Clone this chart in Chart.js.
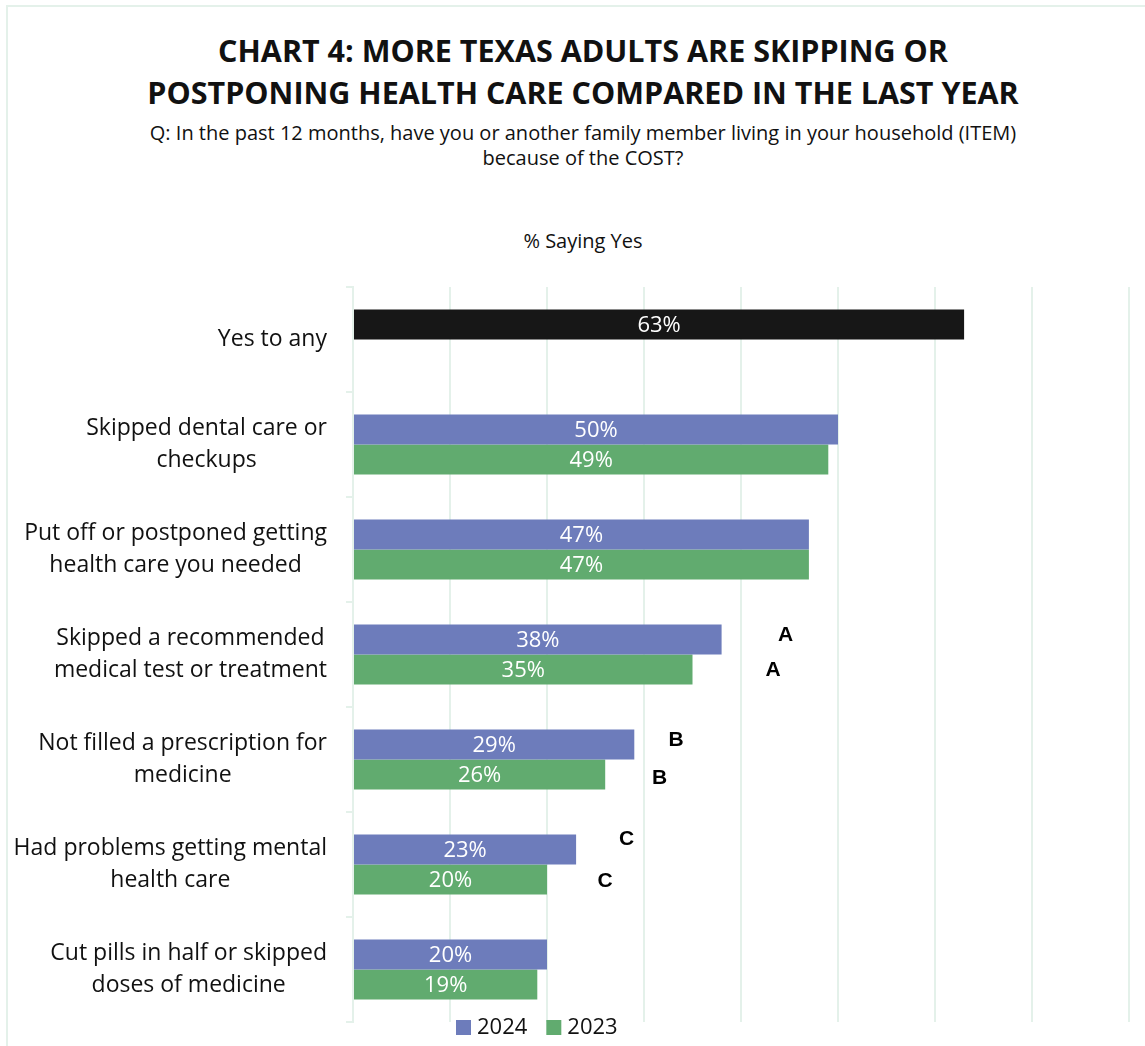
<!DOCTYPE html>
<html>
<head>
<meta charset="utf-8">
<title>Chart 4</title>
<script src="https://cdn.jsdelivr.net/npm/chart.js@4.4.1/dist/chart.umd.min.js"></script>
<style>
  html, body { margin: 0; padding: 0; background: #fff; }
  body { width: 1145px; height: 1046px; position: relative; overflow: hidden; font-family: 'Open Sans', sans-serif; color: #111; }
  .frame { position: absolute; left: 6px; top: 5px; width: 1300px; height: 1200px; border-left: 2px solid #e4f1ea; border-top: 2px solid #e4f1ea; }
  .head { position: absolute; left: 0; width: 1166px; text-align: center; }
  #title { top: 29px; font-size: 30.5px; font-weight: 700; line-height: 42px; }
  #question { top: 120px; font-size: 20px; line-height: 25px; }
  #measure { top: 228px; font-size: 20px; line-height: 25px; }
  #wrap { position: absolute; left: 0; top: 0; width: 1145px; height: 1046px; }
</style>
</head>
<body>
<div class="frame"></div>
<div class="head" id="title">CHART 4: MORE TEXAS ADULTS ARE SKIPPING OR<br>POSTPONING HEALTH CARE COMPARED IN THE LAST YEAR</div>
<div class="head" id="question">Q: In the past 12 months, have you or another family member living in your household (ITEM)<br>because of the COST?</div>
<div class="head" id="measure">% Saying Yes</div>
<div id="wrap"><canvas id="chart" width="1145" height="1046"></canvas></div>
<script>
// survey items, one row each (label lines)
const categories = [
  ['Yes to any'],
  ['Skipped dental care or', 'checkups'],
  ['Put off or postponed getting', 'health care you needed'],
  ['Skipped a recommended', 'medical test or treatment'],
  ['Not filled a prescription for', 'medicine'],
  ['Had problems getting mental', 'health care'],
  ['Cut pills in half or skipped', 'doses of medicine']
];
const seriesNames = ['2024', '2023'];
const values2024 = [63, 50, 47, 38, 29, 23, 20];
const values2023 = [null, 49, 47, 35, 26, 20, 19];

// significance letters next to bars
const sigRows = [3, 4, 5];
const sigLetters = ['A', 'B', 'C'];

const BLUE = '#6d7cbb';
const GREEN = '#61ab6f';
const BLACK = '#171717';
const GRID = '#e4f1ea';
const ROW_FONT = '23px "Open Sans", sans-serif';
const VALUE_FONT = '22px "Open Sans", sans-serif';

// where the letters sit: value position on x, pixel nudge on y
const sigPlacement = [
  { at: [44.6, 43.3], dy: [-4, 1] },
  { at: [33.3, 31.6], dy: [-4, 4] },
  { at: [28.2, 26.0], dy: [-10, 2] }
];

const barColors2024 = values2024.map((v, i) => i === 0 ? BLACK : BLUE);

const rowLabels = {
  id: 'rowLabels',
  afterDraw(chart) {
    const ctx = chart.ctx;
    const y = chart.scales.y;
    const right = chart.chartArea.left - 26;
    ctx.save();
    ctx.font = ROW_FONT;
    ctx.fillStyle = '#111';
    ctx.textAlign = 'center';
    ctx.textBaseline = 'middle';
    categories.forEach((lines, i) => {
      const cy = y.getPixelForValue(i);
      const w = Math.max(...lines.map(l => ctx.measureText(l).width));
      const cx = right - w / 2;
      const lh = 32;
      lines.forEach((l, k) => {
        ctx.fillText(l, cx, cy + (k - (lines.length - 1) / 2) * lh);
      });
    });
    ctx.restore();
  }
};

const valueLabels = {
  id: 'valueLabels',
  afterDatasetsDraw(chart) {
    const ctx = chart.ctx;
    ctx.save();
    ctx.font = VALUE_FONT;
    ctx.fillStyle = '#fff';
    ctx.textAlign = 'center';
    ctx.textBaseline = 'middle';
    chart.data.datasets.forEach((ds, di) => {
      chart.getDatasetMeta(di).data.forEach((bar, i) => {
        const v = ds.data[i];
        if (v == null) return;
        ctx.fillText(v + '%', (bar.x + bar.base) / 2, bar.y + 1);
      });
    });
    ctx.restore();
  }
};

const sigMarks = {
  id: 'sigMarks',
  afterDraw(chart) {
    const ctx = chart.ctx;
    const x = chart.scales.x;
    ctx.save();
    ctx.font = 'bold 21px "Liberation Sans", Arial, sans-serif';
    ctx.fillStyle = '#000';
    ctx.textAlign = 'center';
    ctx.textBaseline = 'middle';
    sigRows.forEach((row, k) => {
      [0, 1].forEach(di => {
        const bar = chart.getDatasetMeta(di).data[row];
        const p = sigPlacement[k];
        ctx.fillText(sigLetters[k], x.getPixelForValue(p.at[di]), bar.y + p.dy[di]);
      });
    });
    ctx.restore();
  }
};

const bottomLegend = {
  id: 'bottomLegend',
  afterDraw(chart) {
    const ctx = chart.ctx;
    const colors = [BLUE, GREEN];
    let lx = 456;
    const ly = 1027;
    ctx.save();
    ctx.font = VALUE_FONT;
    ctx.textBaseline = 'middle';
    ctx.textAlign = 'left';
    seriesNames.forEach((name, i) => {
      ctx.fillStyle = colors[i];
      ctx.fillRect(lx, ly - 7, 15, 15);
      ctx.fillStyle = '#111';
      ctx.fillText(name, lx + 21, ly + 1);
      lx += 21 + ctx.measureText(name).width + 19;
    });
    ctx.restore();
  }
};

new Chart(document.getElementById('chart'), {
  type: 'bar',
  data: {
    labels: categories,
    datasets: [{
      label: seriesNames[0],
      data: values2024,
      backgroundColor: barColors2024,
      barPercentage: 1,
      categoryPercentage: 60 / 105
    }, {
      label: seriesNames[1],
      data: values2023,
      backgroundColor: GREEN,
      barPercentage: 1,
      categoryPercentage: 60 / 105
    }]
  },
  options: {
    indexAxis: 'y',
    responsive: false,
    animation: false,
    layout: { padding: { top: 287, bottom: 24, left: 0, right: 16 } },
    plugins: {
      legend: { display: false },
      tooltip: { enabled: false }
    },
    scales: {
      x: {
        min: 0,
        max: 80,
        ticks: { display: false, stepSize: 10 },
        grid: { color: GRID, lineWidth: 2, drawTicks: false },
        border: { display: false }
      },
      y: {
        ticks: { display: false },
        grid: { offset: true, drawOnChartArea: false, drawTicks: true, tickLength: 7, color: GRID, lineWidth: 2 },
        border: { color: GRID, width: 2 },
        afterFit(scale) { scale.width = 353; }
      }
    }
  },
  plugins: [rowLabels, valueLabels, sigMarks, bottomLegend]
});
</script>
</body>
</html>
